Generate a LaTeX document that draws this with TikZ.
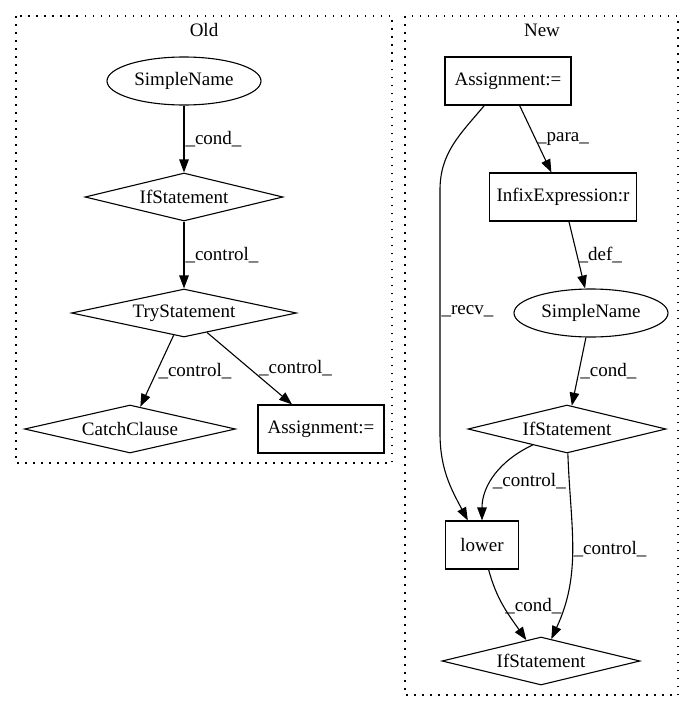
\documentclass[tikz,border=0pt]{standalone}
\usepackage{fontspec}
\setmainfont{Liberation Serif}
\usepackage{tikz}
\usetikzlibrary{shapes.geometric, positioning, arrows.meta}
\tikzset{
->, % every connector is directed
>={Triangle[length=13pt,width=9.5pt]}, % filled heads as in the dot output
node distance=116pt, % one rank of the graph
font=\fontsize{19pt}{22pt}\selectfont,
decision/.style={diamond, draw, aspect=4.5, inner sep=0pt, minimum width=198pt, minimum height=48pt}, % statements
action/.style={rectangle, draw, inner sep=0pt, minimum width=126pt, minimum height=48pt}, % expressions
ident/.style={ellipse, draw, inner sep=0pt, minimum width=154pt, minimum height=48pt}, % names
lbl/.style={right, inner sep=1pt}, % edge labels
cluster/.style={-, dash pattern=on 1.5pt off 6.5pt},
}

\begin{document}
\begin{tikzpicture}[x=1pt, y=1pt, line width=1.1pt]
            \useasboundingbox (0,0) rectangle (695,-712);

            % old version
            \draw[cluster] (16,-16) rectangle (392,-463);
            \node (oldtitle) at (204,-30) {Old};
            \node[ident] (osn) at (184,-81) {SimpleName};
            \node[decision, below of=osn] (oif) {IfStatement};
            \node[decision, below of=oif, minimum width=225pt] (otry) {TryStatement};
            \node[decision, below of=otry, xshift=-54pt, minimum width=211pt] (ocatch) {CatchClause};
            \node[action, below of=otry, xshift=137pt] (oasg) {Assignment:=};
            \draw   (osn) edge node[lbl]{\_cond\_} (oif)
                    (oif) edge node[lbl]{\_control\_} (otry)
                    (otry) edge node[lbl]{\_control\_} (ocatch)
                    (otry) edge node[lbl, xshift=8pt]{\_control\_} (oasg)
                    ;

            % new version
            \draw[cluster] (405,-16) rectangle (678,-695);
            \node (newtitle) at (542,-30) {New};
            \node[action] (nasg) at (508,-81) {Assignment:=};
            \node[action, below of=nasg, xshift=55pt, minimum width=147pt] (ninfix) {InfixExpression:r};
            \node[ident, below of=ninfix, xshift=28pt] (nsn) {SimpleName};
            \node[decision, below of=nsn, xshift=-24pt] (nif) {IfStatement};
            \node[action, below of=nif, xshift=-85pt, minimum width=73pt] (nlower) {lower};
            \node[decision, below of=nlower, xshift=59pt] (nif2) {IfStatement};
            \coordinate (recvtop) at (440,-190);
            \coordinate (recvbot) at (440,-433);
            \draw   (nasg) edge node[lbl]{\_para\_} (ninfix)
                    (ninfix) edge node[lbl]{\_def\_} (nsn)
                    (nsn) edge node[lbl]{\_cond\_} (nif)
                    (nif) edge[out=205, in=90] node[lbl, pos=0.58]{\_control\_} (nlower)
                    (nif) edge[out=-88, in=65] node[lbl]{\_control\_} (nif2)
                    (nlower) edge[out=-75, in=125] node[lbl]{\_cond\_} (nif2)
                    ;
            \draw (nasg.226) to[out=230, in=90] (recvtop) -- node[lbl]{\_recv\_} (recvbot) to[out=-90, in=118] (nlower.120);
        \end{tikzpicture}
\end{document}
